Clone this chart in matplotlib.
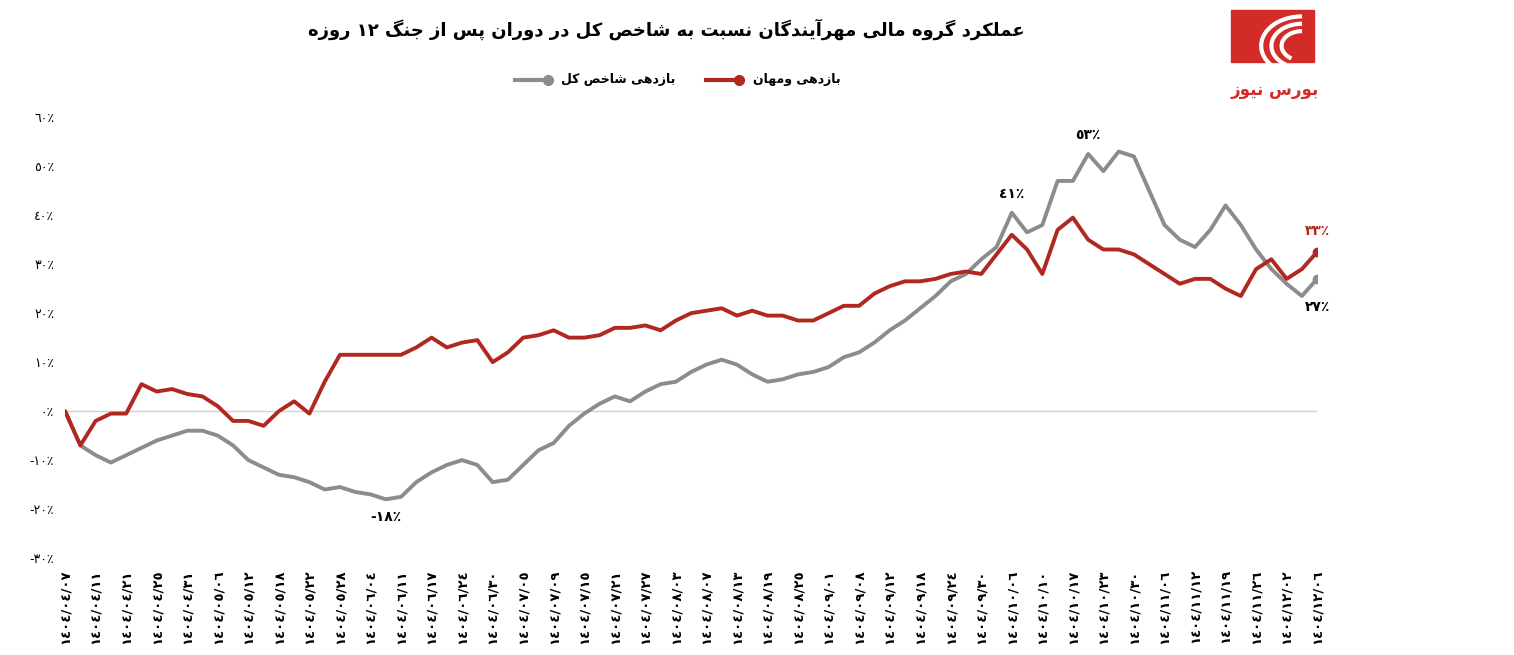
#!/usr/bin/env python3
import matplotlib
matplotlib.use("Agg")
import matplotlib.pyplot as plt
from matplotlib.patches import Rectangle, Arc

# forms: isolated, final, initial, medial (two entries = right-joining only)
FORMS = {
    "ا": (0xFE8D, 0xFE8E), "آ": (0xFE81, 0xFE82), "د": (0xFEA9, 0xFEAA),
    "ذ": (0xFEAB, 0xFEAC), "ر": (0xFEAD, 0xFEAE), "ز": (0xFEAF, 0xFEB0),
    "و": (0xFEED, 0xFEEE),
    "ب": (0xFE8F, 0xFE90, 0xFE91, 0xFE92), "ت": (0xFE95, 0xFE96, 0xFE97, 0xFE98),
    "ج": (0xFE9D, 0xFE9E, 0xFE9F, 0xFEA0), "خ": (0xFEA5, 0xFEA6, 0xFEA7, 0xFEA8),
    "س": (0xFEB1, 0xFEB2, 0xFEB3, 0xFEB4), "ش": (0xFEB5, 0xFEB6, 0xFEB7, 0xFEB8),
    "ص": (0xFEB9, 0xFEBA, 0xFEBB, 0xFEBC), "ع": (0xFEC9, 0xFECA, 0xFECB, 0xFECC),
    "ل": (0xFEDD, 0xFEDE, 0xFEDF, 0xFEE0), "م": (0xFEE1, 0xFEE2, 0xFEE3, 0xFEE4),
    "ن": (0xFEE5, 0xFEE6, 0xFEE7, 0xFEE8), "ه": (0xFEE9, 0xFEEA, 0xFEEB, 0xFEEC),
    "ی": (0xFBFC, 0xFBFD, 0xFBFE, 0xFBFF), "ک": (0xFB8E, 0xFB8F, 0xFB90, 0xFB91),
    "گ": (0xFB92, 0xFB93, 0xFB94, 0xFB95), "پ": (0xFB56, 0xFB57, 0xFB58, 0xFB59),
}
DIGITS = "٠١٢٣٤٥٦٧٨٩"


def fa_num(s):
    return "".join(DIGITS[int(c)] if c.isdigit() else c for c in s)


def rtl(text):
    text = fa_num(text)
    out = []
    for i, c in enumerate(text):
        if c not in FORMS:
            out.append(c)
            continue
        f = FORMS[c]
        prev = text[i - 1] if i > 0 else ""
        nxt = text[i + 1] if i + 1 < len(text) else ""
        pj = prev in FORMS and len(FORMS[prev]) == 4
        nj = nxt in FORMS and len(f) == 4
        if pj and nj:
            out.append(chr(f[3]))
        elif pj:
            out.append(chr(f[1]))
        elif nj:
            out.append(chr(f[2]))
        else:
            out.append(chr(f[0]))
    # reverse, keeping digit runs left-to-right
    tokens, cur = [], ""
    for c in out:
        if c in DIGITS:
            cur += c
        else:
            if cur:
                tokens.append(cur)
                cur = ""
            tokens.append(c)
    if cur:
        tokens.append(cur)
    return "".join(reversed(tokens))


title = "عملکرد گروه مالی مهرآیندگان نسبت به شاخص کل در دوران پس از جنگ 12 روزه"
index_name = "بازدهی شاخص کل"
vmahan_name = "بازدهی ومهان"

dates = ["04/07", "04/11", "04/21", "04/25", "04/31", "05/06", "05/12", "05/18",
         "05/22", "05/28", "06/04", "06/11", "06/17", "06/24", "06/30", "07/05",
         "07/09", "07/15", "07/21", "07/27", "08/03", "08/07", "08/13", "08/19",
         "08/25", "09/01", "09/08", "09/12", "09/18", "09/24", "09/30", "10/06",
         "10/10", "10/17", "10/23", "10/30", "11/06", "11/12", "11/19", "11/26",
         "12/02", "12/06"]

vmahan = [0, -7, -2, -0.5, -0.5, 5.5, 4, 4.5, 3.5, 3, 1, -2, -2, -3, 0, 2, -0.5,
          6, 11.5, 11.5, 11.5, 11.5, 11.5, 13, 15, 13, 14, 14.5, 10, 12, 15, 15.5,
          16.5, 15, 15, 15.5, 17, 17, 17.5, 16.5, 18.5, 20, 20.5, 21, 19.5, 20.5,
          19.5, 19.5, 18.5, 18.5, 20, 21.5, 21.5, 24, 25.5, 26.5, 26.5, 27, 28,
          28.5, 28, 32, 36, 33, 28, 37, 39.5, 35, 33, 33, 32, 30, 28, 26, 27, 27,
          25, 23.5, 29, 31, 27, 29, 32.5]

index = [0, -7, -9, -10.5, -9, -7.5, -6, -5, -4, -4, -5, -7, -10, -11.5, -13,
         -13.5, -14.5, -16, -15.5, -16.5, -17, -18, -17.5, -14.5, -12.5, -11, -10,
         -11, -14.5, -14, -11, -8, -6.5, -3, -0.5, 1.5, 3, 2, 4, 5.5, 6, 8, 9.5,
         10.5, 9.5, 7.5, 6, 6.5, 7.5, 8, 9, 11, 12, 14, 16.5, 18.5, 21, 23.5,
         26.5, 28, 31, 33.5, 40.5, 36.5, 38, 47, 47, 52.5, 49, 53, 52, 45, 38, 35,
         33.5, 37, 42, 38, 33, 29, 26, 23.5, 27]

RED = "#b0281f"
GREY = "#8c8c8c"

fig = plt.figure(figsize=(15.14, 6.55), dpi=100)
ax = fig.add_axes([0.043, 0.148, 0.827, 0.673])

x = list(range(len(vmahan)))
ax.axhline(0, color="#d0d0d0", lw=1, zorder=1)
ax.plot(x, index, color=GREY, lw=2.8, solid_capstyle="round", zorder=2)
ax.plot(x, vmahan, color=RED, lw=2.8, solid_capstyle="round", zorder=3)
ax.plot(x[-1], vmahan[-1], "o", color=RED, ms=6, zorder=4)
ax.plot(x[-1], index[-1], "o", color=GREY, ms=6, zorder=4)

ax.set_xlim(0, len(x) - 1)
ax.set_ylim(-30, 60)
ax.set_yticks(range(-30, 61, 10))
ax.set_yticklabels([fa_num(f"{v}٪") if v >= 0 else "-" + fa_num(f"{-v}٪")
                    for v in range(-30, 61, 10)], fontsize=9)
ax.set_xticks(range(0, len(x), 2))
ax.set_xticklabels([fa_num("1404/" + d) for d in dates], rotation=90,
                   fontsize=9.5, fontweight="bold")
ax.tick_params(length=0, pad=8)
for s in ax.spines.values():
    s.set_visible(False)

bold = dict(fontsize=10, fontweight="bold", ha="center")
ax.text(62, 43.5, fa_num("41٪"), **bold)
ax.text(67, 55.5, fa_num("53٪"), **bold)
ax.text(21, -22.5, "-" + fa_num("18٪"), **bold)
ax.text(82, 36, fa_num("33٪"), color=RED, **bold)
ax.text(82, 20.5, fa_num("27٪"), **bold)

fig.text(0.44, 0.955, rtl(title), ha="center", va="center", fontsize=13,
         fontweight="bold")

# legend
fig.text(0.446, 0.878, rtl(index_name), ha="right", va="center", fontsize=9,
         fontweight="bold")
fig.add_artist(plt.Line2D([0.340, 0.362], [0.878, 0.878], color=GREY, lw=3))
fig.add_artist(plt.Line2D([0.362], [0.878], marker="o", color=GREY, ms=7))
fig.text(0.555, 0.878, rtl(vmahan_name), ha="right", va="center", fontsize=9,
         fontweight="bold")
fig.add_artist(plt.Line2D([0.466, 0.488], [0.878, 0.878], color=RED, lw=3))
fig.add_artist(plt.Line2D([0.488], [0.878], marker="o", color=RED, ms=7))

# logo
fig.add_artist(Rectangle((0.813, 0.905), 0.055, 0.08, color="#d32b27",
                         transform=fig.transFigure))
for r in (0.03, 0.045, 0.06):
    fig.add_artist(Arc((0.86, 0.93), r * 0.9, r * 1.5, theta1=90, theta2=250,
                       color="white", lw=3, transform=fig.transFigure))
fig.text(0.842, 0.862, rtl("بورس نیوز"), ha="center", va="center",
         fontsize=12, color="#d32b27", fontweight="bold")

fig.savefig("out.png", dpi=100)
